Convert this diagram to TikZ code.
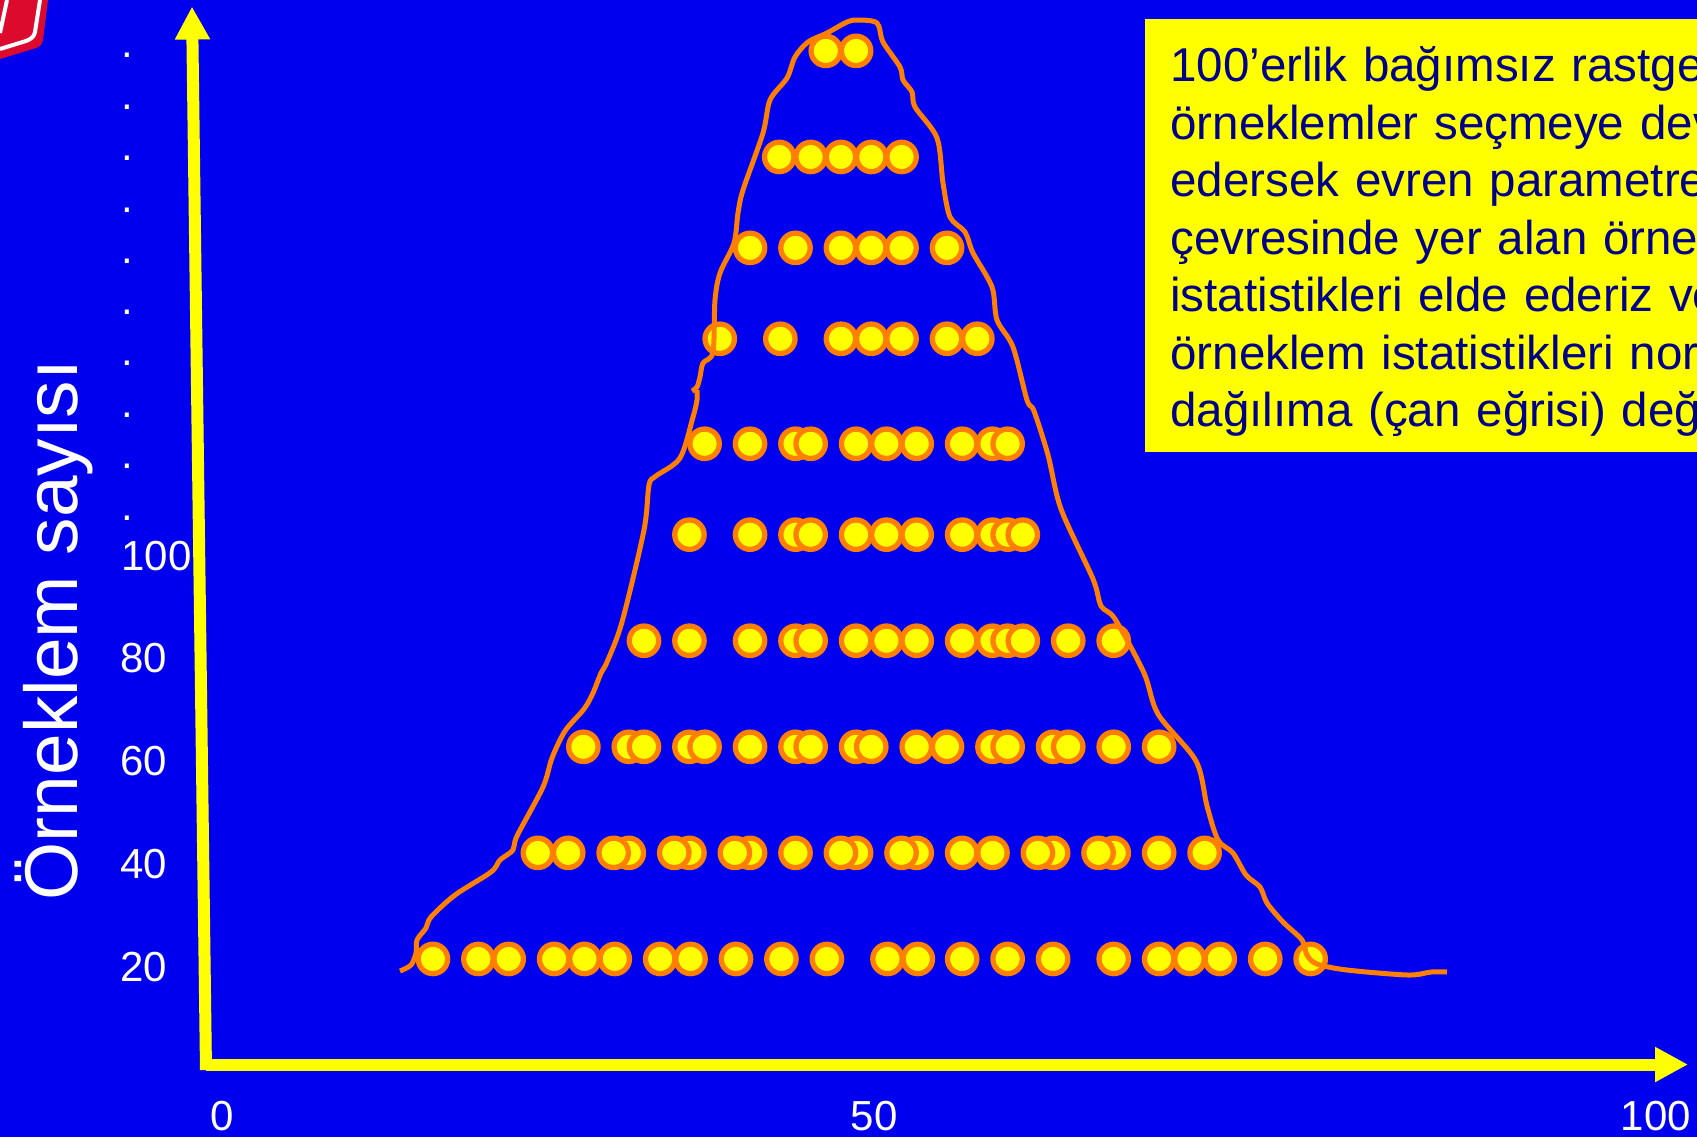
\documentclass[tikz,border=0pt]{standalone}
\usepackage{fontspec}
\setmainfont{Liberation Sans}
\usetikzlibrary{arrows.meta}
\definecolor{bgblue}{HTML}{0000EE}
\definecolor{pureyellow}{HTML}{FFFF00}
\definecolor{dotorange}{HTML}{FF8000}
\definecolor{textnavy}{HTML}{000088}
\definecolor{logored}{HTML}{DC0A2D}
\tikzset{
  x=0.5pt,y=-0.5pt,
  axisline/.style={pureyellow,line width=6pt,-{Triangle[length=16.5pt,width=16.5pt]}},
  dotmark/.style={fill=pureyellow,draw=dotorange,line width=2.65pt},
  curveline/.style={draw=dotorange,line width=2.5pt,line join=round},
  tick/.style={text=white,inner sep=0pt,font=\fontsize{21}{25}\selectfont},
  ellipsisdot/.style={text=white,inner sep=0pt,anchor=base west,font=\fontsize{21}{25}\selectfont},
  infobox/.style={fill=pureyellow,text=textnavy,anchor=north west,minimum width=276pt,minimum height=216.5pt,
    text width=251pt,inner xsep=12.5pt,inner ysep=0pt,align=left,font=\fontsize{23.75}{28.75}\selectfont},
}
\newcommand{\dotrow}[2]{\foreach \px in {#2}{\draw[dotmark] ({\px*1.0823},{#1*1.0823}) circle[radius=14.7];}}
\begin{document}
\begin{tikzpicture}
\fill[bgblue] (0,0) rectangle (1697,1137);
\useasboundingbox (0,0) rectangle (1697,1137);
% logo
\fill[logored] (0,59) -- (36,48) .. controls (41,46) and (42,44) .. (43,40) -- (48,0) -- (0,0) -- cycle;
\draw[white,line width=2pt] (0,49) -- (26,41) .. controls (31,39) and (34,37) .. (35,32) -- (40,0);
\draw[white,line width=2pt] (0,33) -- (7,0);
% axes
\coordinate (ybase) at (206,1070);
\coordinate (ytop) at (192,6.5);
\coordinate (xbase) at (206,1064.5);
\coordinate (xend) at (1688,1064.5);
\draw[axisline] (ybase) -- (ytop);
\draw[axisline] (xbase) -- (xend);
% dots
\dotrow{47}{763,791}
\dotrow{145}{720,749,777,805,833}
\dotrow{229}{693,735,777,805,833,875}
\dotrow{313}{665,721,777,805,833,875,903}
\dotrow{410}{651,693,735,749,791,819,847,889,917,931}
\dotrow{494}{637,693,735,749,791,819,847,889,917,931,945}
\dotrow{592}{595,637,693,735,749,791,819,847,889,917,931,945,987,1029}
\dotrow{690}{539,581,595,637,651,693,735,749,791,805,847,875,917,931,973,987,1029,1071}
\dotrow{788}{1113,1071,1029,1015,973,959,917,889,847,833,791,777,735,693,679,637,623,581,567,525,497}
\dotrow{886}{400,442,470,512,540,568,610,638,680,722,764,820,848,889,931,973,1029,1071,1099,1127,1169,1211}
% bell curve
\draw[curveline] plot[smooth,tension=0.5] coordinates {
(400,971)(411,965)(416,953)(417,940)(426,928)(431,917)(455,895)(491,872)(500,860)(513,850)(517,836)
(543,787)(552,758)(565,731)(584,709)(593,693)(601,673)(607,662)(622,622)(644,530)(649,485)(656,476)
(680,458)(693,417)(697,400)(697,390)};
\draw[curveline] plot[smooth,tension=0.5] coordinates {
(692,391)(697,387)(700,377)(703,363)(713,352)(715,300)(720,273)(734,243)(738,213)(743,190)(763,133)
(770,100)(787,78)(795,57)(808,42)(827,33)(847,22)(858,20)(877,23)(883,42)(900,67)(903,80)(912,92)
(915,107)(937,138)(943,183)(950,217)(965,232)(973,253)(992,287)(997,320)(1013,347)(1027,400)
(1034,411)(1048,455)(1061,509)(1093,579)(1101,606)(1115,619)(1144,673)(1158,714)(1196,761)(1207,806)
(1218,840)(1233,853)(1246,875)(1260,887)(1267,903)(1283,922)(1302,940)(1307,955)(1317,964)(1347,970)
(1408,975)(1431,972)(1447,972)};
% y labels
\node[tick] (t20) at (144,967) {20};
\node[tick] (t40) at (144,864) {40};
\node[tick] (t60) at (144,761) {60};
\node[tick] (t80) at (144,658) {80};
\node[tick,anchor=west] (t100) at (121,556) {100};
\foreach \i/\py in {1/55,2/107,3/158,4/210,5/261,6/312,7/363,8/415,9/466,10/518}
  \node[ellipsisdot] (e\i) at (121,\py+2.5) {.};
% x labels
\node[tick] (x0) at (222,1116) {0};
\node[tick] (x50) at (874,1116) {50};
\node[tick] (x100) at (1656,1116) {100};
% axis title
\node[text=white,inner sep=0pt,rotate=90,anchor=base,font=\fontsize{37.4}{44}\selectfont] (ytitle) at (77,630) {Örneklem sayısı};
% info box
\node[infobox] (info) at (1145,18.5) {\rule{0pt}{24pt}\mbox{100’erlik bağımsız rastge}\\\mbox{örneklemler seçmeye dev}\\\mbox{edersek evren parametre}\\\mbox{çevresinde yer alan örne}\\\mbox{istatistikleri elde ederiz ve}\\\mbox{örneklem istatistikleri nor}\\\mbox{dağılıma (çan eğrisi) değ}};
\end{tikzpicture}
\end{document}
